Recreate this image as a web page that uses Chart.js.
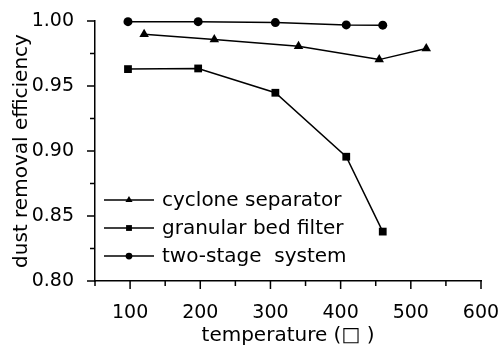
<!DOCTYPE html>
<html lang="en">
<head>
  <meta charset="UTF-8">
  <title>Dust removal efficiency</title>
  <script src="https://cdn.jsdelivr.net/npm/chart.js"></script>
  <style>
    body { margin: 0; background: #fff; }
    canvas { display: block; }
  </style>
</head>
<body>
  <canvas id="effChart" width="501" height="352"></canvas>
  <script>
    // values
    const cycloneTemp = [120, 220, 340, 455, 522];
    const cycloneEff = [0.9898, 0.9857, 0.9805, 0.9703, 0.9788];
    const bedTemp = [97, 197, 307, 408, 460];
    const bedEff = [0.963, 0.9635, 0.9448, 0.8956, 0.838];
    const twoStageTemp = [97, 197, 307, 408, 460];
    const twoStageEff = [0.9995, 0.9995, 0.9988, 0.997, 0.9968];

    const xTicks = [100, 200, 300, 400, 500, 600];
    const yTicks = [0.80, 0.85, 0.90, 0.95, 1.00];

    const FONT = "DejaVu Sans";

    const pts = (xs, ys) => xs.map((x, i) => ({ x, y: ys[i] }));

    function series(label, xs, ys, style, r) {
      return {
        label,
        data: pts(xs, ys),
        borderColor: "#000",
        backgroundColor: "#000",
        borderWidth: 1.5,
        pointStyle: style,
        pointRadius: r,
        pointBorderWidth: 0,
        clip: false,
        tension: 0
      };
    }

    // outward major + minor ticks, like the original plot
    const tickMarks = {
      id: "tickMarks",
      afterDraw(chart) {
        const { ctx, chartArea: a, scales: { x, y } } = chart;
        ctx.save();
        ctx.strokeStyle = "#000";
        ctx.lineWidth = 1.5;
        ctx.beginPath();
        for (let v = 50; v <= 600; v += 50) {
          const px = x.getPixelForValue(v);
          const len = v % 100 === 0 ? 8 : 5;
          ctx.moveTo(px, a.bottom);
          ctx.lineTo(px, a.bottom + len);
        }
        for (let i = 0; i <= 8; i++) {
          const v = 0.8 + i * 0.025;
          const py = y.getPixelForValue(v);
          const len = i % 2 === 0 ? 8 : 5;
          ctx.moveTo(a.left, py);
          ctx.lineTo(a.left - len, py);
        }
        ctx.stroke();
        ctx.restore();
      }
    };

    // legend with a line through the marker, inside the plot
    const innerLegend = {
      id: "innerLegend",
      afterDraw(chart) {
        const { ctx, chartArea: a } = chart;
        ctx.save();
        ctx.font = "20px '" + FONT + "'";
        ctx.textBaseline = "middle";
        ctx.fillStyle = "#000";
        chart.data.datasets.forEach((ds, i) => {
          const yy = a.bottom - 81 + i * 28;
          const x0 = a.left + 9;
          ctx.strokeStyle = "#000";
          ctx.lineWidth = 1.5;
          ctx.beginPath();
          ctx.moveTo(x0, yy);
          ctx.lineTo(x0 + 50, yy);
          ctx.stroke();
          Chart.helpers.drawPoint(ctx, {
            pointStyle: ds.pointStyle, radius: ds.pointRadius * 0.75, borderWidth: 0
          }, x0 + 25, yy);
          ctx.fillText(ds.label, x0 + 58, yy + 1);
        });
        ctx.restore();
      }
    };

    new Chart(document.getElementById("effChart"), {
      type: "line",
      data: {
        datasets: [
          series("cyclone separator", cycloneTemp, cycloneEff, "triangle", 5.5),
          series("granular bed filter", bedTemp, bedEff, "rect", 5.5),
          series("two-stage  system", twoStageTemp, twoStageEff, "circle", 4.5)
        ]
      },
      options: {
        responsive: false,
        animation: false,
        layout: { padding: { top: 21, right: 20, left: 0, bottom: 0 } },
        plugins: {
          legend: { display: false },
          tooltip: { enabled: false }
        },
        scales: {
          x: {
            type: "linear",
            min: 50,
            max: 600,
            afterFit: s => { s.height = 71; s.paddingLeft = 0; s.paddingRight = 0; },
            afterBuildTicks: s => { s.ticks = xTicks.map(v => ({ value: v })); },
            grid: { display: false },
            border: { display: true, color: "#000", width: 1.5 },
            ticks: {
              color: "#000",
              padding: 13,
              maxRotation: 0,
              font: { family: FONT, size: 19 },
              callback: v => String(v)
            },
            title: {
              display: true,
              text: "temperature (\u25A1 )",
              color: "#000",
              font: { family: FONT, size: 20 },
              padding: { top: 0, bottom: 4 }
            }
          },
          y: {
            min: 0.80,
            max: 1.00,
            afterFit: s => { s.width = 95; s.paddingTop = 0; s.paddingBottom = 0; },
            afterBuildTicks: s => { s.ticks = yTicks.map(v => ({ value: v })); },
            grid: { display: false },
            border: { display: true, color: "#000", width: 1.5 },
            ticks: {
              color: "#000",
              padding: 13,
              font: { family: FONT, size: 19 },
              callback: v => v.toFixed(2)
            },
            title: {
              display: true,
              text: "dust removal efficiency",
              color: "#000",
              font: { family: FONT, size: 20 },
              padding: { top: 10, bottom: 0 }
            }
          }
        }
      },
      plugins: [tickMarks, innerLegend]
    });
  </script>
</body>
</html>
